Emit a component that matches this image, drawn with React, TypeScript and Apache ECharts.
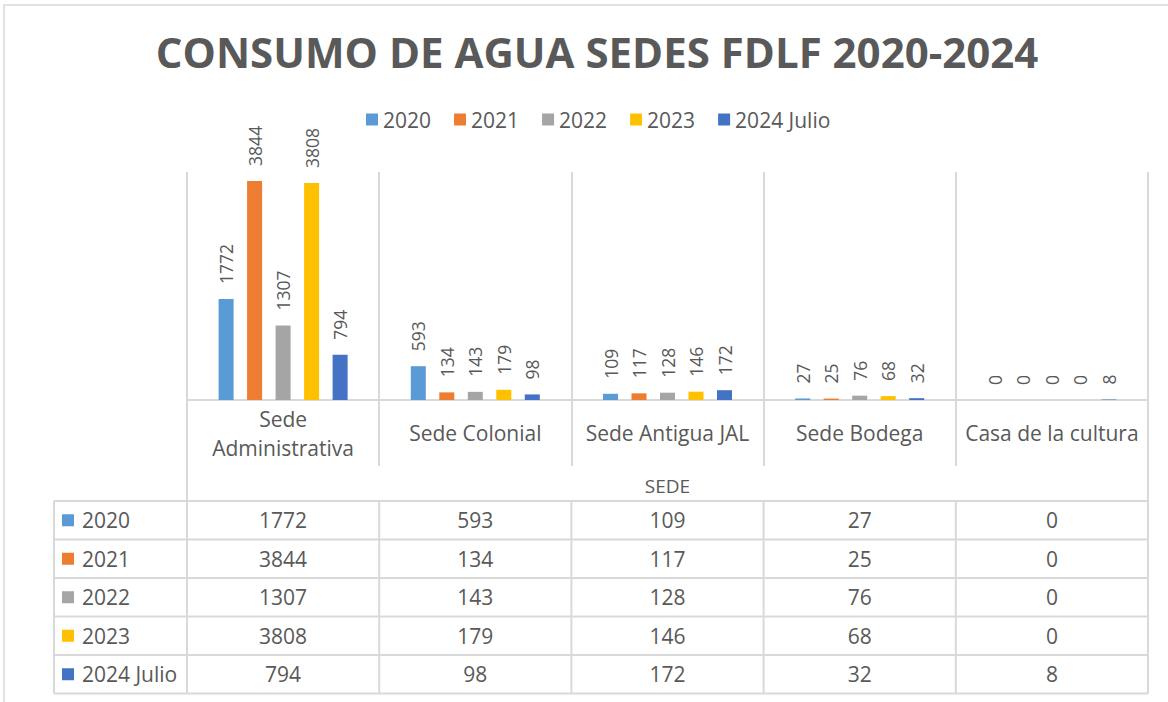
import React, { useEffect, useRef } from "react";
import * as echarts from "echarts";

const categories = ["Sede Administrativa", "Sede Colonial", "Sede Antigua JAL", "Sede Bodega", "Casa de la cultura"];
const seriesNames = ["2020", "2021", "2022", "2023", "2024 Julio"];
const v2020 = [1772, 593, 109, 27, 0];
const v2021 = [3844, 134, 117, 25, 0];
const v2022 = [1307, 143, 128, 76, 0];
const v2023 = [3808, 179, 146, 68, 0];
const v2024 = [794, 98, 172, 32, 8];
const seriesValues = [v2020, v2021, v2022, v2023, v2024];
const colors = ["#5B9BD5", "#ED7D31", "#A5A5A5", "#FFC000", "#4472C4"];
const titleText = "CONSUMO DE AGUA SEDES FDLF 2020-2024";
const axisName = "SEDE";

const FONT = "Open Sans";
const TXT = "#595959";
const LINE = "#D9D9D9";

export default function App() {
  const ref = useRef<HTMLDivElement>(null);
  useEffect(() => {
    if (!ref.current) return;
    const chart = echarts.init(ref.current, null, { renderer: "svg" });
    const W = 1168;
    const gridLeft = 187;
    const gridRight = 1148;
    const gridTop = 172;
    const baseY = 400;
    const colW = (gridRight - gridLeft) / categories.length;
    const tTop = 501;
    const rowH = 38.5;
    const tEnd = tTop + rowH * seriesNames.length;
    const tLeft = 54;

    const graphics: any[] = [];
    graphics.push({
      type: "rect",
      shape: { x: 4, y: 5, width: 1200, height: 720 },
      style: { fill: "none", stroke: LINE, lineWidth: 1.5 },
      silent: true,
    });
    for (let i = 0; i <= seriesNames.length; i++) {
      const y = tTop + i * rowH;
      graphics.push({ type: "line", shape: { x1: tLeft, y1: y, x2: gridRight, y2: y }, style: { stroke: LINE, lineWidth: 2 } });
    }
    graphics.push({ type: "line", shape: { x1: tLeft, y1: tTop, x2: tLeft, y2: tEnd }, style: { stroke: LINE, lineWidth: 2 } });
    graphics.push({ type: "line", shape: { x1: gridLeft, y1: 460, x2: gridLeft, y2: tEnd }, style: { stroke: LINE, lineWidth: 2 } });
    graphics.push({ type: "line", shape: { x1: gridRight, y1: 460, x2: gridRight, y2: tEnd }, style: { stroke: LINE, lineWidth: 2 } });
    for (let j = 1; j < categories.length; j++) {
      const x = gridLeft + j * colW;
      graphics.push({ type: "line", shape: { x1: x, y1: tTop, x2: x, y2: tEnd }, style: { stroke: LINE, lineWidth: 2 } });
    }
    seriesNames.forEach((name, i) => {
      const cy = tTop + i * rowH + rowH / 2;
      graphics.push({ type: "rect", shape: { x: 62, y: cy - 6, width: 12, height: 12 }, style: { fill: colors[i] } });
      graphics.push({
        type: "text",
        x: 82,
        y: cy,
        style: { text: name, fill: TXT, font: `21px "${FONT}"`, textAlign: "left", textVerticalAlign: "middle" },
      });
      seriesValues[i].forEach((v, j) => {
        graphics.push({
          type: "text",
          x: gridLeft + (j + 0.5) * colW,
          y: cy,
          style: { text: String(v), fill: TXT, font: `21px "${FONT}"`, textAlign: "center", textVerticalAlign: "middle" },
        });
      });
    });

    chart.setOption({
      animation: false,
      backgroundColor: "#fff",
      title: {
        text: titleText,
        left: 592,
        textAlign: "center",
        top: 22,
        textStyle: { fontFamily: FONT, fontWeight: "bold", fontSize: 42, color: TXT, lineHeight: 48 },
      },
      legend: {
        data: seriesNames,
        left: 361,
        top: 104,
        itemWidth: 12,
        itemHeight: 12,
        itemGap: 23,
        icon: "rect",
        textStyle: { fontFamily: FONT, fontSize: 21, color: TXT },
      },
      grid: { left: gridLeft, right: W - gridRight, top: gridTop, bottom: 702 - baseY, containLabel: false },
      xAxis: {
        type: "category",
        data: categories,
        name: axisName,
        nameLocation: "middle",
        nameGap: 76,
        nameTextStyle: { fontFamily: FONT, fontSize: 19, color: TXT },
        axisLine: { show: true, lineStyle: { color: LINE, width: 2 } },
        axisTick: { show: true, length: 66, alignWithLabel: false, lineStyle: { color: LINE, width: 2 } },
        splitLine: { show: true, lineStyle: { color: LINE, width: 2 } },
        axisLabel: {
          interval: 0,
          margin: 33,
          verticalAlign: "middle",
          lineHeight: 29,
          fontFamily: FONT,
          fontSize: 21,
          color: TXT,
          formatter: (v: string) => (v.length > 18 ? v.replace(" ", "\n") : v),
        },
      },
      yAxis: {
        type: "value",
        min: 0,
        max: 4000,
        show: false,
        splitLine: { show: false },
      },
      series: seriesNames.map((name, i) => ({
        name,
        type: "bar",
        data: seriesValues[i],
        barWidth: 15,
        barGap: "90%",
        itemStyle: { color: colors[i] },
        label: {
          show: true,
          position: "top",
          rotate: 90,
          align: "left",
          verticalAlign: "middle",
          distance: 15,
          fontFamily: FONT,
          fontSize: 17.5,
          color: TXT,
        },
      })),
      graphic: graphics,
    });
    return () => chart.dispose();
  }, []);
  return (
    <div
      ref={ref}
      style={{ position: "fixed", left: 0, top: 0, width: 1168, height: 702, background: "#fff" }}
    />
  );
}
